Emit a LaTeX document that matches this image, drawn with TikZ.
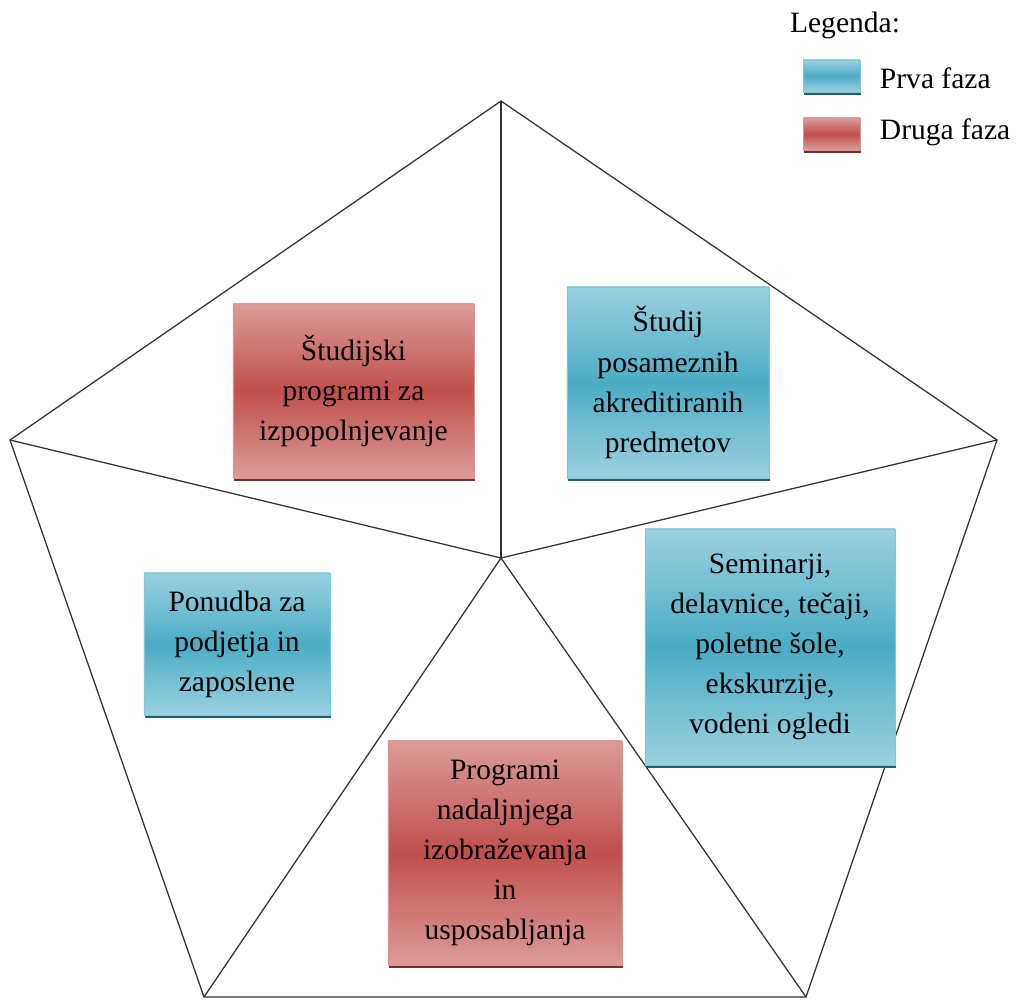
\documentclass[tikz,border=0pt]{standalone}
\usepackage{fontspec}
\setmainfont{LiberationSerif}[Extension=.ttf, UprightFont=*-Regular]
\usepackage{tikz}
\usetikzlibrary{positioning,shadows}
\definecolor{blueLight}{HTML}{9BD1E0}
\definecolor{blueMid}{HTML}{4BACC6}
\definecolor{blueDark}{HTML}{215E6E}
\definecolor{redLight}{HTML}{DC9B99}
\definecolor{redMid}{HTML}{C0504D}
\definecolor{redDark}{HTML}{772C2A}
\tikzset{
    faza/.style={rectangle, inner sep=0pt, align=center,
        font=\rmfamily\fontsize{21}{28.5}\selectfont},
    faza1/.style={faza, draw=blueMid!70, line width=0.6pt,
        top color=blueLight, bottom color=blueLight, middle color=blueMid,
        drop shadow={shadow xshift=0.4pt, shadow yshift=-2.2pt, fill=blueDark, opacity=1}},
    faza2/.style={faza, draw=redMid!60, line width=0.6pt,
        top color=redLight, bottom color=redLight, middle color=redMid,
        drop shadow={shadow xshift=0.4pt, shadow yshift=-2.2pt, fill=redDark, opacity=1}},
    rob/.style={draw=black!80, line width=0.9pt},
}
\begin{document}
\begin{tikzpicture}[x=0.025cm, y=-0.025cm, font=\rmfamily\fontsize{21}{28.5}\selectfont]
    \useasboundingbox (0,0) rectangle (1017,999);
    % pentagon
    \coordinate (s) at (501,558);
    \coordinate (v1) at (501,101);
    \coordinate (v2) at (997,440);
    \coordinate (v3) at (806,997);
    \coordinate (v4) at (204,997);
    \coordinate (v5) at (10,440);
    \draw[rob] (v1) -- (v2) -- (v3) -- (v4) -- (v5) -- cycle;
    \foreach \v in {v1,v2,v3,v4,v5}
      \draw[rob] (s) -- (\v);
    % boxes
    \node[faza2, minimum width=6.025cm, minimum height=4.35cm] (izpop) at (353.5,391)
      {Študijski\\programi za\\izpopolnjevanje};
    \node[faza1, minimum width=5.05cm, minimum height=4.775cm] (studij) at (668,382.5)
      {Študij\\posameznih\\akreditiranih\\predmetov};
    \node[faza1, minimum width=4.65cm, minimum height=3.55cm] (ponudba) at (237,644)
      {Ponudba za\\podjetja in\\zaposlene};
    \node[faza1, minimum width=6.25cm, minimum height=5.9cm] (seminarji) at (770,647)
      {Seminarji,\\delavnice, tečaji,\\poletne šole,\\ekskurzije,\\vodeni ogledi};
    \node[faza2, minimum width=5.85cm, minimum height=5.6cm] (programi) at (505,853)
      {Programi\\nadaljnjega\\izobraževanja\\in\\usposabljanja};
    % legend
    \node (legenda) at (845,25) {Legenda:};
    \node[faza1, minimum width=1.425cm, minimum height=0.8cm] (prvaBox) at (831.5,76) {};
    \node[faza2, minimum width=1.425cm, minimum height=0.8cm] (drugaBox) at (831.5,134) {};
    \node[anchor=west] (prva) at (875,78) {Prva faza};
    \node[anchor=west] (druga) at (875,132) {Druga faza};
\end{tikzpicture}
\end{document}
